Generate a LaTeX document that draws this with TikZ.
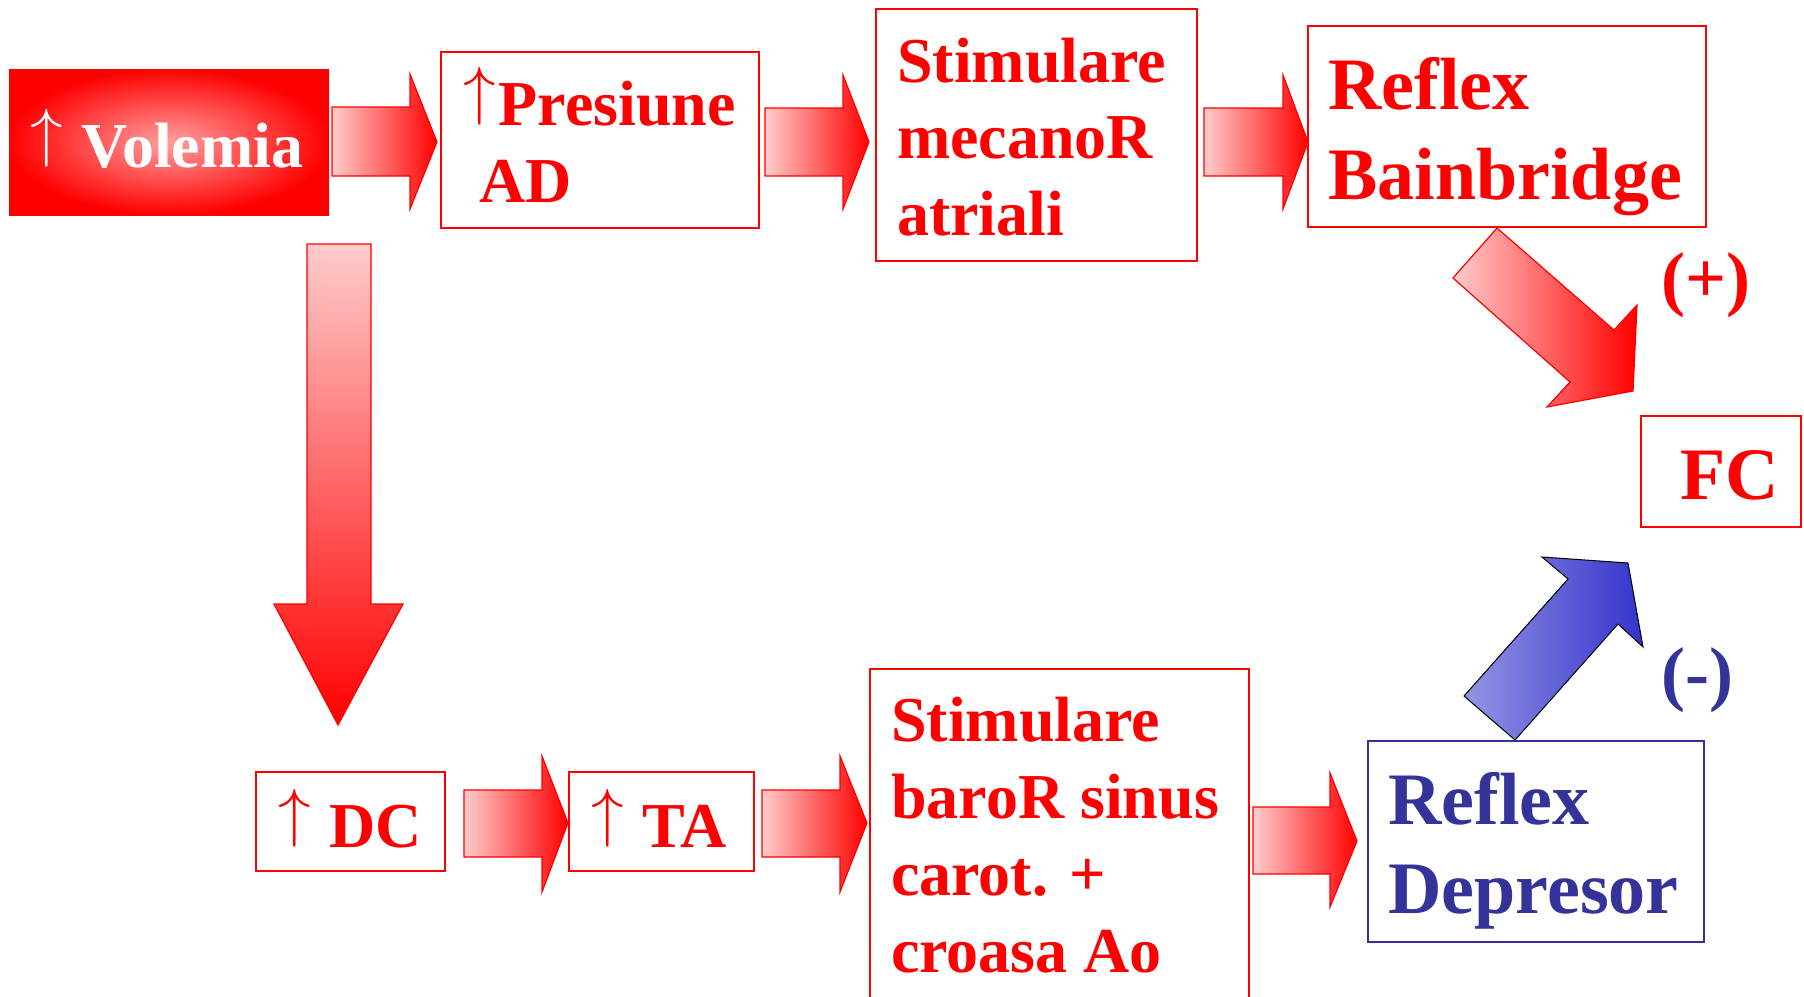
\documentclass[tikz,border=0pt]{standalone}
\usepackage{graphicx}
\usepackage{fontspec}
\setmainfont{Liberation Serif}
\definecolor{rd}{HTML}{FF0000}
\definecolor{pk}{HTML}{FFCCCC}
\definecolor{vc}{HTML}{FFA0A0}
\definecolor{bl}{HTML}{333399}
\definecolor{bll}{HTML}{9494E4}
\definecolor{bld}{HTML}{3333CC}
\newcommand{\uparr}{\raisebox{12.6pt}{\scalebox{6.5}{\fontsize{10}{12}\selectfont$\uparrow$}}}
\begin{document}
\begin{tikzpicture}[x=1pt,y=-1pt,
  box/.style={draw=rd, line width=1.5pt, inner sep=0pt},
  bbox/.style={draw=bl, line width=1.5pt, inner sep=0pt},
  txt/.style={anchor=base west, inner sep=0pt, text=rd, align=left,
    font=\fontsize{64}{76.5}\selectfont\bfseries},
  bigtxt/.style={txt, font=\fontsize{74}{90}\selectfont\bfseries},
  sgn/.style={txt, font=\fontsize{72}{80}\selectfont\bfseries},
  harr/.style={draw=rd, line width=1.2pt, left color=pk, right color=rd},
  varr/.style={draw=rd, line width=1.2pt, top color=pk, bottom color=rd},
  barr/.style={draw=black, line width=1pt, left color=bll, right color=bld}]
\useasboundingbox (0,0) rectangle (1804,996);
\clip (0,0) rectangle (1804,996);
% boxes
\node[inner sep=0pt, minimum width=320pt, minimum height=146pt, shading=radial, inner color=vc, outer color=rd] (vol) at (169,142) {};
\node[box, minimum width=318pt, minimum height=176pt] (pres) at (600,140) {};
\node[box, minimum width=321pt, minimum height=252pt] (mec) at (1036.5,135) {};
\node[box, minimum width=398pt, minimum height=201pt] (bain) at (1507,126.5) {};
\node[box, minimum width=160pt, minimum height=111pt] (fc) at (1721,471.5) {};
\node[bbox, minimum width=336pt, minimum height=201pt] (dep) at (1536,841.5) {};
\node[box, minimum width=189pt, minimum height=99pt] (dc) at (350.5,821.5) {};
\node[box, minimum width=185pt, minimum height=99pt] (ta) at (661.5,821.5) {};
\node[box, minimum width=379pt, minimum height=341pt] (baro) at (1059.5,839.5) {};
% block arrows
\path[harr] (332,107)--(410,107)--(410,74)--(437,142)--(410,209)--(410,176)--(332,176)--cycle;
\path[harr] (765,108)--(843,108)--(843,75)--(869,142)--(843,209)--(843,176)--(765,176)--cycle;
\path[harr] (1204,108)--(1283,108)--(1283,75)--(1308,142)--(1283,209)--(1283,176)--(1204,176)--cycle;
\path[varr] (307,244)--(371,244)--(371,604)--(403,604)--(338,725)--(274,604)--(307,604)--cycle;
\path[harr] (464,790)--(542,790)--(542,756)--(568,823)--(542,892)--(542,857)--(464,857)--cycle;
\path[harr] (762,790)--(840,790)--(840,756)--(867,823)--(840,892)--(840,857)--(762,857)--cycle;
\path[harr] (1253,807)--(1330,807)--(1330,773)--(1357,841)--(1330,907)--(1330,874)--(1253,874)--cycle;
\path[harr] (1497,228)--(1614,330)--(1637,305)--(1633,391)--(1547,407)--(1570,382)--(1453,278)--cycle;
\path[barr] (1515,740)--(1464,696)--(1568,579)--(1542,557)--(1628,563)--(1643,647)--(1618,624)--cycle;
% texts (multi-line nodes anchored at the baseline of their last line)
\node[txt, text=white] (volT) at (30,167) {\uparr\hspace*{19pt}Volemia};
\node[txt] (presT) at (463,202) {\uparr\hspace*{3pt}Presiune\\\hspace*{16pt}AD};
\node[txt] (mecT) at (897,235) {Stimulare\\mecanoR\\atriali};
\node[bigtxt] (bainT) at (1328,199) {Reflex\\Bainbridge};
\node[sgn] (plusT) at (1661,302) {(+)};
\node[bigtxt] (fcT) at (1680,499) {FC};
\node[sgn, text=bl] (minusT) at (1661,697) {(-)};
\node[bigtxt, text=bl, font=\fontsize{74}{89}\selectfont\bfseries] (depT) at (1388,913) {Reflex\\Depresor};
\node[txt] (dcT) at (278,847) {\uparr\hspace*{19pt}DC};
\node[txt] (taT) at (591,847) {\uparr\hspace*{19pt}TA};
\node[txt, font=\fontsize{64}{76.7}\selectfont\bfseries] (baroT) at (891,972) {Stimulare\\baroR sinus\\carot. +\\croasa Ao};
\end{tikzpicture}
\end{document}
